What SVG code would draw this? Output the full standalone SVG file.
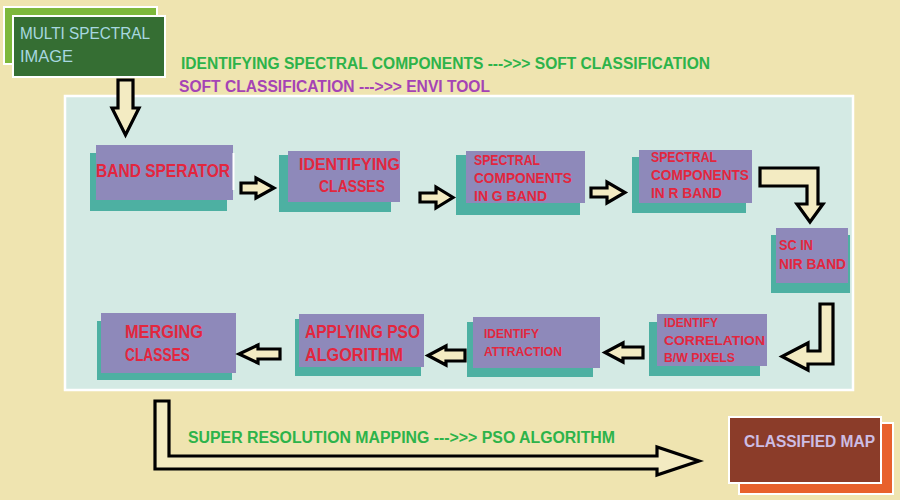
<svg xmlns="http://www.w3.org/2000/svg" width="900" height="500" viewBox="0 0 900 500">
<style>
.sh{fill:#4DB0A2}
.fr{fill:#8E89BA}
.t{font-family:"Liberation Sans",Arial,sans-serif;font-weight:bold;fill:#E3263E}
.arr{fill:#F3EBC2;stroke:#000;stroke-width:3.2;stroke-linejoin:miter}
.ttl{font-family:"Liberation Sans",Arial,sans-serif;font-weight:bold;font-size:16px}
</style>
<rect x="0" y="0" width="900" height="500" fill="#EFE4B0"/>
<rect x="65" y="96" width="788" height="294" fill="#D4EAE4" stroke="#FFFFFF" stroke-width="2.5"/>

<g id="title1"><text class="ttl" x="181" y="69" fill="#2DB34A" textLength="529" lengthAdjust="spacingAndGlyphs">IDENTIFYING SPECTRAL COMPONENTS ---&gt;&gt;&gt; SOFT CLASSIFICATION</text></g>
<g id="title2"><text class="ttl" x="179" y="92" fill="#A543B5" textLength="311" lengthAdjust="spacingAndGlyphs">SOFT CLASSIFICATION ---&gt;&gt;&gt; ENVI TOOL</text></g>

<g id="msi">
<rect x="4" y="7" width="153" height="57" fill="#7DB83B" stroke="#FFFFFF" stroke-width="2"/>
<rect x="13" y="16" width="152" height="61" fill="#356E33" stroke="#FFFFFF" stroke-width="2"/>
<text x="20" y="39" font-family="'Liberation Sans',Arial,sans-serif" font-size="17" fill="#A8D8E0" textLength="130" lengthAdjust="spacingAndGlyphs">MULTI SPECTRAL</text>
<text x="20" y="62" font-family="'Liberation Sans',Arial,sans-serif" font-size="17" fill="#A8D8E0" textLength="53" lengthAdjust="spacingAndGlyphs">IMAGE</text>
</g>

<g id="n1">
<rect class="sh" x="90" y="153" width="137" height="58"/>
<rect class="fr" x="96" y="145" width="137" height="55"/>
<line x1="233.5" y1="153" x2="233.5" y2="190" stroke="#FFFFFF" stroke-width="2"/>
<text class="t" x="96" y="177" font-size="17.5" textLength="134" lengthAdjust="spacingAndGlyphs">BAND SPERATOR</text>
</g>

<g id="n2">
<rect class="sh" x="279" y="155" width="112" height="57"/>
<rect class="fr" x="288" y="151" width="112" height="51"/>
<text class="t" x="299" y="170" font-size="17" textLength="101" lengthAdjust="spacingAndGlyphs">IDENTIFYING</text>
<text class="t" x="319" y="192" font-size="17" textLength="66" lengthAdjust="spacingAndGlyphs">CLASSES</text>
</g>

<g id="n3">
<rect class="sh" x="456" y="155" width="124" height="60"/>
<rect class="fr" x="466" y="151" width="119" height="52"/>
<text class="t" x="474" y="165" font-size="14" textLength="66" lengthAdjust="spacingAndGlyphs">SPECTRAL</text>
<text class="t" x="474" y="183" font-size="14" textLength="98" lengthAdjust="spacingAndGlyphs">COMPONENTS</text>
<text class="t" x="474" y="201" font-size="14" textLength="73" lengthAdjust="spacingAndGlyphs">IN G BAND</text>
</g>

<g id="n4">
<rect class="sh" x="632" y="157" width="114" height="56"/>
<rect class="fr" x="639" y="150" width="113" height="53"/>
<text class="t" x="651" y="162" font-size="14" textLength="66" lengthAdjust="spacingAndGlyphs">SPECTRAL</text>
<text class="t" x="651" y="180" font-size="14" textLength="98" lengthAdjust="spacingAndGlyphs">COMPONENTS</text>
<text class="t" x="651" y="198" font-size="14" textLength="71" lengthAdjust="spacingAndGlyphs">IN R BAND</text>
</g>

<g id="n5">
<rect class="sh" x="771" y="235" width="79" height="58"/>
<rect class="fr" x="776" y="228" width="72" height="55"/>
<text class="t" x="779" y="250" font-size="14.5" textLength="34" lengthAdjust="spacingAndGlyphs">SC IN</text>
<text class="t" x="779" y="269" font-size="14.5" textLength="67" lengthAdjust="spacingAndGlyphs">NIR BAND</text>
</g>

<g id="n6">
<rect class="sh" x="649" y="322" width="111" height="54"/>
<rect class="fr" x="657" y="314" width="110" height="52"/>
<text class="t" x="664" y="327" font-size="13.5" textLength="54" lengthAdjust="spacingAndGlyphs">IDENTIFY</text>
<text class="t" x="664" y="345" font-size="13.5" textLength="101" lengthAdjust="spacingAndGlyphs">CORRELATION</text>
<text class="t" x="664" y="362" font-size="13.5" textLength="71" lengthAdjust="spacingAndGlyphs">B/W PIXELS</text>
</g>

<g id="n7">
<rect class="sh" x="467" y="322" width="126" height="55"/>
<rect class="fr" x="473" y="317" width="127" height="51"/>
<text class="t" x="484" y="338" font-size="13" textLength="55" lengthAdjust="spacingAndGlyphs">IDENTIFY</text>
<text class="t" x="484" y="356" font-size="13" textLength="78" lengthAdjust="spacingAndGlyphs">ATTRACTION</text>
</g>

<g id="n8">
<rect class="sh" x="295" y="319" width="126" height="57"/>
<rect class="fr" x="299" y="314" width="125" height="53"/>
<text class="t" x="305" y="338" font-size="17.5" textLength="115" lengthAdjust="spacingAndGlyphs">APPLYING PSO</text>
<text class="t" x="305" y="361" font-size="17.5" textLength="98" lengthAdjust="spacingAndGlyphs">ALGORITHM</text>
</g>

<g id="n9">
<rect class="sh" x="97" y="321" width="135" height="59"/>
<rect class="fr" x="101" y="313" width="135" height="60"/>
<text class="t" x="125" y="338" font-size="17.5" textLength="78" lengthAdjust="spacingAndGlyphs">MERGING</text>
<text class="t" x="125" y="361" font-size="17.5" textLength="65" lengthAdjust="spacingAndGlyphs">CLASSES</text>
</g>

<g id="map">
<rect x="739" y="423" width="154" height="71" fill="#E8612C" stroke="#FFFFFF" stroke-width="2"/>
<rect x="729" y="417" width="152" height="66" fill="#8B3C29" stroke="#FFFFFF" stroke-width="2"/>
<text x="744" y="447" font-family="'Liberation Sans',Arial,sans-serif" font-weight="bold" font-size="16" fill="#CDBDE3" textLength="131" lengthAdjust="spacingAndGlyphs">CLASSIFIED MAP</text>
</g>

<g id="connectors">
<polygon class="arr" points="118,80 133,80 133,108 139,108 125.5,135 112,108 118,108"/>
<polygon class="arr" points="241,183 256,183 256,178 274,188 256,198 256,193 241,193"/>
<polygon class="arr" points="420,193 436,193 436,187 453,197.5 436,208 436,202 420,202"/>
<polygon class="arr" points="591,188 607,188 607,182 625,192.5 607,203 607,197 591,197"/>
<polygon class="arr" points="760,168 818,168 818,204 823,204 810,222 797,204 807,204 807,186 760,186"/>
<polygon class="arr" points="820,304 833,304 833,364 808,364 808,370 782,356.5 808,343 808,351 820,351"/>
<polygon class="arr" points="643,347 623,347 623,343 605,352.5 623,362 623,358 643,358"/>
<polygon class="arr" points="465,350 446,350 446,346 428,355.5 446,365 446,361 465,361"/>
<polygon class="arr" points="280,349 258,349 258,345 239,354 258,363 258,359 280,359"/>
<polygon class="arr" points="155,401 169,401 169,456 657,456 657,447 699,461 657,475 657,469 155,469"/>
</g>

<g id="bottom-label"><text class="ttl" x="188" y="443" fill="#2DB34A" textLength="427" lengthAdjust="spacingAndGlyphs">SUPER RESOLUTION MAPPING ---&gt;&gt;&gt; PSO ALGORITHM</text></g>
</svg>
